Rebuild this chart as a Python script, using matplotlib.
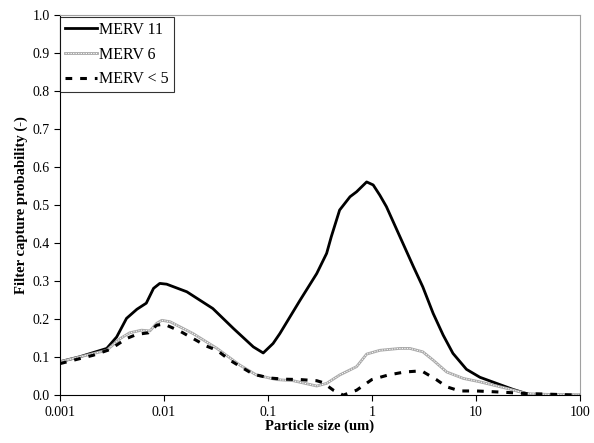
import numpy as np
import matplotlib
matplotlib.use("Agg")
import matplotlib.pyplot as plt
from matplotlib.legend_handler import HandlerTuple

plt.rcParams['font.family'] = ['Liberation Serif', 'DejaVu Serif']

# log10 of particle size (um) and capture probability
lx11 = [-3.0, -2.81, -2.55, -2.455, -2.36, -2.26, -2.17, -2.10, -2.04, -1.974, -1.78,
        -1.53, -1.33, -1.14, -1.045, -0.95, -0.885, -0.69, -0.53, -0.435, -0.39, -0.31,
        -0.21, -0.147, -0.05, 0.013, 0.077, 0.14, 0.27, 0.40, 0.49, 0.59, 0.686, 0.78,
        0.91, 1.04, 1.2, 1.36, 1.49, 1.55, 2.0]
y11 = [0.088, 0.101, 0.123, 0.153, 0.202, 0.226, 0.242, 0.281, 0.294, 0.292, 0.272,
       0.228, 0.175, 0.127, 0.111, 0.136, 0.162, 0.25, 0.32, 0.373, 0.417, 0.487,
       0.522, 0.535, 0.561, 0.553, 0.526, 0.496, 0.417, 0.338, 0.285, 0.215, 0.158, 0.11,
       0.068, 0.047, 0.031, 0.015, 0.004, 0.0, 0.0]

lx6 = [-3.0, -2.55, -2.42, -2.33, -2.215, -2.135, -2.07, -2.02, -1.94, -1.72, -1.49,
       -1.27, -1.11, -0.92, -0.757, -0.53, -0.435, -0.31, -0.147, -0.05, 0.077, 0.27,
       0.365, 0.49, 0.59, 0.72, 0.88, 1.04, 1.295, 1.49, 1.7, 2.0]
y6 = [0.088, 0.118, 0.149, 0.164, 0.171, 0.169, 0.189, 0.197, 0.193, 0.162, 0.123,
      0.079, 0.053, 0.041, 0.038, 0.024, 0.031, 0.053, 0.075, 0.108, 0.118, 0.123,
      0.123, 0.114, 0.092, 0.061, 0.044, 0.035, 0.018, 0.004, 0.002, 0.0]

lx5 = [-3.0, -2.68, -2.52, -2.36, -2.26, -2.15, -2.07, -2.0, -1.85, -1.72, -1.59, -1.49,
       -1.365, -1.27, -1.14, -0.98, -0.837, -0.69, -0.53, -0.47, -0.37, -0.275, -0.147,
       0.0, 0.157, 0.317, 0.478, 0.62, 0.72, 0.846, 1.007, 1.167, 1.31, 1.49, 1.65, 2.0]
y5 = [0.083, 0.105, 0.12, 0.149, 0.16, 0.164, 0.184, 0.187, 0.169, 0.149, 0.129, 0.118,
      0.092, 0.076, 0.055, 0.045, 0.042, 0.041, 0.038, 0.033, 0.013, 0.0, 0.013,
      0.041, 0.053, 0.061, 0.064, 0.041, 0.022, 0.011, 0.011, 0.009, 0.007, 0.004, 0.003, 0.0]

x11 = 10 ** np.array(lx11)
x6 = 10 ** np.array(lx6)
x5 = 10 ** np.array(lx5)

fig = plt.figure(figsize=(5.94, 4.43), dpi=100)
ax = fig.add_axes([0.101, 0.108, 0.875, 0.858])

l11, = ax.plot(x11, y11, color='black', lw=2.0)
l6a, = ax.plot(x6, y6, color='#a8a8a8', lw=2.0)
l6b, = ax.plot(x6, y6, color='white', lw=0.7, linestyle=(0, (1.3, 1.3)))
l5, = ax.plot(x5, y5, color='black', lw=2.2, linestyle=(0, (2.2, 2.6)))

ax.set_xscale('log')
ax.set_xlim(0.001, 100)
ax.set_ylim(0, 1.0)
ax.set_xticks([0.001, 0.01, 0.1, 1, 10, 100])
ax.set_xticklabels(['0.001', '0.01', '0.1', '1', '10', '100'])
ax.minorticks_off()
ax.set_yticks(np.arange(0, 1.01, 0.1))
ax.set_yticklabels(['%.1f' % v for v in np.arange(0, 1.01, 0.1)])
ax.tick_params(labelsize=10, length=4, direction='out', width=0.8)

ax.set_xlabel('Particle size (um)', fontsize=10.5, fontweight='bold', labelpad=1)
ax.set_ylabel('Filter capture probability (-)', fontsize=10.5, fontweight='bold', labelpad=3)

for s in ['top', 'right']:
    ax.spines[s].set_color('#a0a0a0')
for s in ['left', 'bottom']:
    ax.spines[s].set_color('black')

leg = ax.legend([l11, (l6a, l6b), l5], ['MERV 11', 'MERV 6', 'MERV < 5'],
                handler_map={tuple: HandlerTuple(ndivide=1, pad=0)},
                loc='upper left', bbox_to_anchor=(0.0, 0.995), fontsize=11.5,
                frameon=True, fancybox=False, edgecolor='black', handlelength=2.0,
                handletextpad=0.15, borderpad=0.3, labelspacing=0.55, borderaxespad=0)
leg.get_frame().set_linewidth(0.8)

fig.savefig('out.png', dpi=100)
